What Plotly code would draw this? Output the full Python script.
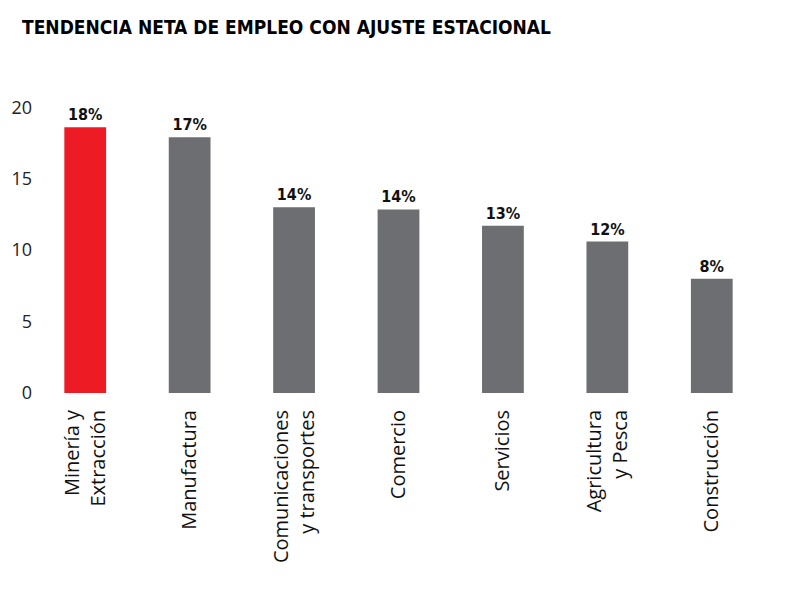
import plotly.graph_objects as go

# Data
sectors = ['Minería y<br>Extracción', 'Manufactura', 'Comunicaciones<br>y transportes',
           'Comercio', 'Servicios', 'Agricultura<br>y Pesca', 'Construcción']
trend = [18.6, 17.9, 13.0, 12.85, 11.7, 10.6, 8.0]
trend_labels = ['18%', '17%', '14%', '14%', '13%', '12%', '8%']
y_ticks = [0, 5, 10, 15, 20]

red = '#ED1C24'
gray = '#6D6E71'
bar_colors = [red] + [gray] * (len(sectors) - 1)

condensed = 'DejaVu Sans Condensed, Liberation Sans Narrow, sans-serif'

fig = go.Figure(go.Bar(
    x=sectors,
    y=trend,
    marker=dict(color=bar_colors, line=dict(width=0)),
    text=trend_labels,
    textposition='outside',
    textfont=dict(family=condensed, size=16, color='#111111', weight='bold'),
    cliponaxis=False,
    hoverinfo='skip',
))

fig.update_layout(
    width=800, height=600,
    paper_bgcolor='white', plot_bgcolor='white',
    margin=dict(l=25, r=44, t=85, b=215),
    bargap=0.6,
    showlegend=False,
    title=dict(
        text='<b>TENDENCIA NETA DE EMPLEO CON AJUSTE ESTACIONAL</b>',
        font=dict(family=condensed, size=19, color='#000000'),
        xref='container', yref='container',
        x=0.0175, xanchor='left', y=0.968, yanchor='middle',
    ),
    font=dict(family='Open Sans, Noto Sans, sans-serif', color='#222222'),
)

fig.update_xaxes(
    tickangle=-90,
    tickfont=dict(size=20, color='#111111'),
    showline=False, showgrid=False, ticks='',
    ticklabelstandoff=12,
    automargin=False,
)
fig.update_yaxes(
    range=[0, 21],
    tickvals=y_ticks,
    tickfont=dict(size=18, color='#222222'),
    showgrid=False, zeroline=False, showline=False, ticks='',
    ticklabelstandoff=0,
    automargin=False,
)

fig.write_html('out.html')
